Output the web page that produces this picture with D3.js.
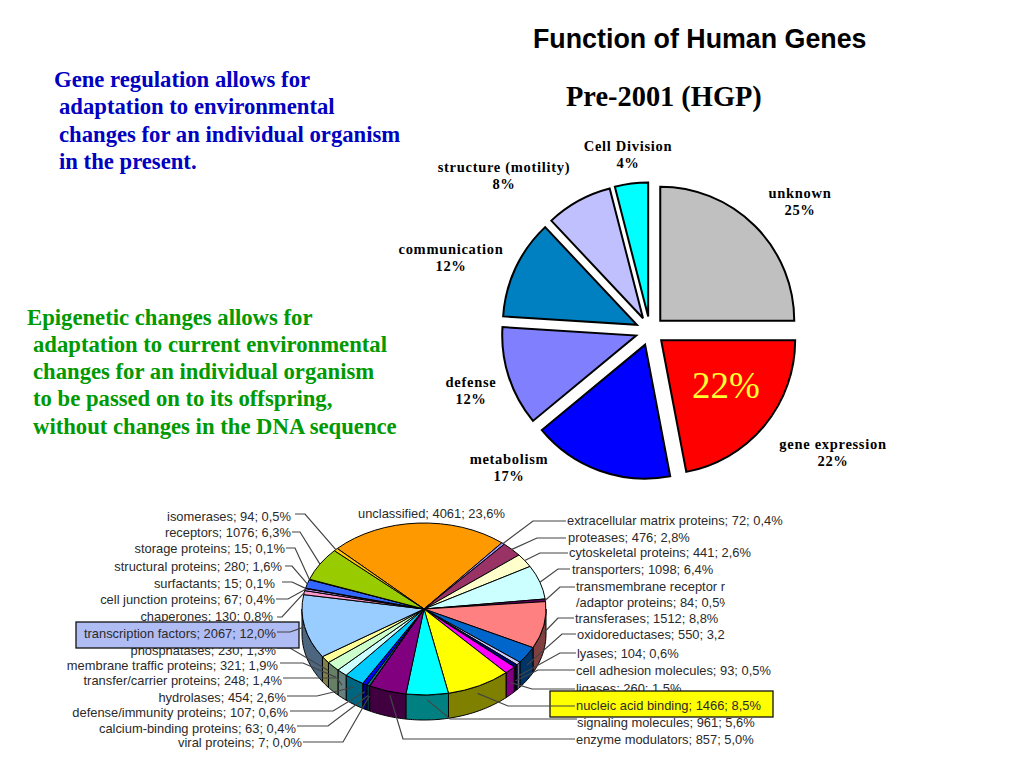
<!DOCTYPE html>
<html><head><meta charset="utf-8">
<script src="https://cdn.jsdelivr.net/npm/d3@7/dist/d3.min.js"></script>
<style>html,body{margin:0;padding:0;background:#fff}svg{display:block}</style>
</head><body><svg id="c" width="1024" height="768" viewBox="0 0 1024 768"></svg>
<script>
// ---------- data: upper pie ----------
const upperNames = ["unknown","gene expression","metabolism","defense","communication","structure (motility)","Cell Division"];
const upperValues = [25,22,17,12,12,8,4];
const upperColors = ["#c0c0c0","#ff0000","#0000ff","#8080ff","#0080c0","#c0c0ff","#00ffff"];

// ---------- data: lower pie ----------
const lowerNames = ["unclassified","extracellular matrix proteins","proteases","cytoskeletal proteins","transporters","transmembrane receptor r\n/adaptor proteins","transferases","oxidoreductases","lyases","cell adhesion molecules","ligases","nucleic acid binding","signaling molecules","enzyme modulators","viral proteins","calcium-binding proteins","defense/immunity proteins","hydrolases","transfer/carrier proteins","membrane traffic proteins","phosphatases","transcription factors","chaperones","cell junction proteins","surfactants","structural proteins","storage proteins","receptors","isomerases"];
const lowerValues = [4061,72,476,441,1098,84,1512,550,104,93,260,1466,961,857,7,63,107,454,248,321,230,2067,130,67,15,280,15,1076,94];
const lowerPercents = ["23,6%","0,4%","2,8%","2,6%","6,4%","0,5%","8,8%","3,2%","0,6%","0,5%","1,5%","8,5%","5,6%","5,0%","0,0%","0,4%","0,6%","2,6%","1,4%","1,9%","1,3%","12,0%","0,8%","0,4%","0,1%","1,6%","0,1%","6,3%","0,5%"];
const lowerColors = ["#ff9900","#9999ff","#993366","#ffffcc","#ccffff","#660066","#ff8080","#0066cc","#ccccff","#000080","#ff00ff","#ffff00","#00ffff","#800080","#800000","#008080","#0000ff","#00ccff","#ccffff","#ccffcc","#ffff99","#99ccff","#ff99cc","#cc99ff","#ffcc99","#3366ff","#33cccc","#99cc00","#ffcc00"];

// ---------- layout (not data) ----------
// label x, label centre y, leader start x, elbow x, elbow y, how far down the wall the leader lands, radius factor
const lowerLayout = [
 [358,513,0,0,0,0,1],
 [567,520,566,533,521,0,1],[568,537,566,537,538,0,1],[569,552,568,540,553,0,1],[572,569,570,558,569,0,1],
 [576,586,575,560,587,0,1],[575,618,574,558,618,.3,1],[577,634,576,562,634,.4,1],[577,653,576,560,653,.5,1],
 [576,670,575,538,670,.6,1],[576,688,575,532,689,.5,1],[576,705,575,508,706,.4,.97],[577,722,577,450,719,.3,.97],
 [576,739,575,403,739,.4,.93],
 [302,742,303,343,742,.4,1],[296,728,297,328,726,.4,1],[288,712,290,333,711,.3,1],[286,697,287,317,696,.3,1],
 [282,680,283,337,678,.5,1],[278,665,280,303,663,.5,.97],[276,650,277,290,648,.5,.97],[276,633,277,290,632,0,1],
 [273,616,277,282,617,0,1],[275,599,276,288,599,0,1],[275,583,282,292,582,0,1],[282,566,285,292,566,0,1],
 [285,548,286,295,548,0,1],[291,532,292,300,532,0,1],[291,516,295,305,514,0,1]
];
const clippedLabels = ["transmembrane receptor r\n/adaptor proteins","oxidoreductases"];
const highlightNames = ["transcription factors","nucleic acid binding"];
const highlightFills = ["#b0bcf4","#ffff00"];

const svg = d3.select("#c");
const deg = Math.PI/180;

// ---------- headings ----------
function text(t,x,y,o){
  const e = svg.append("text").attr("x",x).attr("y",y).attr("dy",".35em").text(t)
    .attr("font-family",o.f).attr("font-size",o.s).attr("fill",o.c||"#000")
    .attr("font-weight",o.w||"normal").attr("text-anchor",o.a||"start");
  if(o.ls) e.attr("letter-spacing",o.ls);
  return e;
}
const SERIF='"Liberation Serif",serif', SANS='"Liberation Sans",sans-serif';
text("Function of Human Genes",533,39,{f:SANS,s:26.8,w:"bold"});
text("Pre-2001 (HGP)",566,96,{f:SERIF,s:28.4,w:"bold"});
[["Gene regulation allows for",54,79],["adaptation to environmental",59,106],["changes for an individual organism",59,134],["in the present.",59,161]]
  .forEach(l=>text(l[0],l[1],l[2],{f:SERIF,s:22.7,w:"bold",c:"#0000c0"}));
[["Epigenetic changes allows for",27,317],["adaptation to current environmental",33,344],["changes for an individual organism",33,371],["to be passed on to its offspring,",33,398],["without changes in the DNA sequence",33,426]]
  .forEach(l=>text(l[0],l[1],l[2],{f:SERIF,s:22.7,w:"bold",c:"#009900"}));

// ---------- upper exploded pie ----------
const ucx=650, ucy=331, ur=134, explode=14.5;
const upie = d3.pie().sort(null).value(d=>d)(upperValues);
const uarc = d3.arc().innerRadius(0).outerRadius(ur);
svg.append("g").selectAll("path").data(upie).join("path")
  .attr("d",uarc)
  .attr("transform",d=>{const m=(d.startAngle+d.endAngle)/2;
    return `translate(${ucx+explode*Math.sin(m)},${ucy-explode*Math.cos(m)})`;})
  .attr("fill",(d,i)=>upperColors[i]).attr("stroke","#000").attr("stroke-width",2).attr("stroke-linejoin","miter");
const upperLabelPos = [[800,193],[833,444],[509,459],[471,382],[451,249],[504,167],[628,146]];
upperNames.forEach((n,i)=>{
  const p=upperLabelPos[i];
  text(n,p[0],p[1],{f:SERIF,s:14.5,w:"bold",a:"middle",ls:.7});
  text(upperValues[i]+"%",p[0],p[1]+17,{f:SERIF,s:14.5,w:"bold",a:"middle",ls:.7});
});
text(upperValues[1]+"%",726,385,{f:SERIF,s:37,c:"#ffff33",a:"middle"});

// ---------- lower 3D pie ----------
const lcx=424, lcy=609, rx=122, ry=86, depth=25;
const lpie = d3.pie().sort(null).startAngle(-45.3*deg).endAngle(314.7*deg).value(d=>d)(lowerValues);
const larc = d3.arc().innerRadius(0).outerRadius(rx);
const px = a=>lcx+rx*Math.sin(a), py=a=>lcy-ry*Math.cos(a);
const line = d3.line();
const halve = c=>{const r=d3.rgb(c);return d3.rgb(r.r*.5,r.g*.5,r.b*.5).formatHex();};

const walls = svg.append("g");
lpie.forEach((d,i)=>{
  const a0=Math.max(d.startAngle,90*deg), a1=Math.min(d.endAngle,270*deg);
  if(a1<=a0) return;
  const as=d3.range(a0,a1,deg).concat([a1]);
  const pts=as.map(a=>[px(a),py(a)]).concat(as.slice().reverse().map(a=>[px(a),py(a)+depth]));
  walls.append("path").attr("d",line(pts)+"Z").attr("fill",halve(lowerColors[i]))
    .attr("stroke","#000").attr("stroke-width",1);
});
svg.append("g").attr("transform",`translate(${lcx},${lcy}) scale(1,${ry/rx})`)
  .selectAll("path").data(lpie).join("path").attr("d",larc)
  .attr("fill",(d,i)=>lowerColors[i]).attr("stroke","#000").attr("stroke-width",1)
  .attr("vector-effect","non-scaling-stroke");

svg.append("defs").append("clipPath").attr("id","labelClip").append("rect")
  .attr("x",560).attr("y",575).attr("width",165).attr("height",70);

function leader(i,g){
  const L=lowerLayout[i], d=lpie[i], m=(d.startAngle+d.endAngle)/2;
  const tx=lcx+rx*L[6]*Math.sin(m), ty=lcy-ry*L[6]*Math.cos(m)+depth*L[5];
  g.append("path").attr("d",line([[L[2],L[4]],[L[3],L[4]],[tx,ty]]))
    .attr("fill","none").attr("stroke","#444").attr("stroke-width",1.2);
}
function label(i,g){
  const L=lowerLayout[i], right=L[0]>=560, centre=i===0;
  const lines=lowerNames[i].split("\n");
  const full=`${lines[lines.length-1]}; ${lowerValues[i]}; ${lowerPercents[i]}`;
  const rows=lines.length>1?[lines[0],full]:[full];
  rows.forEach((t,k)=>{
    const e=g.append("text").attr("x",L[0]).attr("y",L[1]+k*16).attr("dy",".35em").text(t)
      .attr("font-family",SANS).attr("font-size",12.9).attr("fill","#2a2a2a")
      .attr("text-anchor",(right||centre)?"start":"end");
    if(clippedLabels.includes(lowerNames[i])) e.attr("clip-path","url(#labelClip)");
  });
}
const under=svg.append("g"), over=svg.append("g");
lowerNames.forEach((n,i)=>{
  const hi=highlightNames.includes(n);
  if(i>0) leader(i,hi?over:under);
  label(i,hi?over:under);
});
// highlight boxes sit between the ordinary labels and the highlighted ones
const boxes=svg.insert("g","g:last-of-type");
[[76,622,223,26],[550,691,223,26]].forEach((b,k)=>{
  boxes.append("rect").attr("x",b[0]).attr("y",b[1]).attr("width",b[2]).attr("height",b[3])
   .attr("fill",highlightFills[k]).attr("stroke","#111").attr("stroke-width",1.3);
});
</script></body></html>
